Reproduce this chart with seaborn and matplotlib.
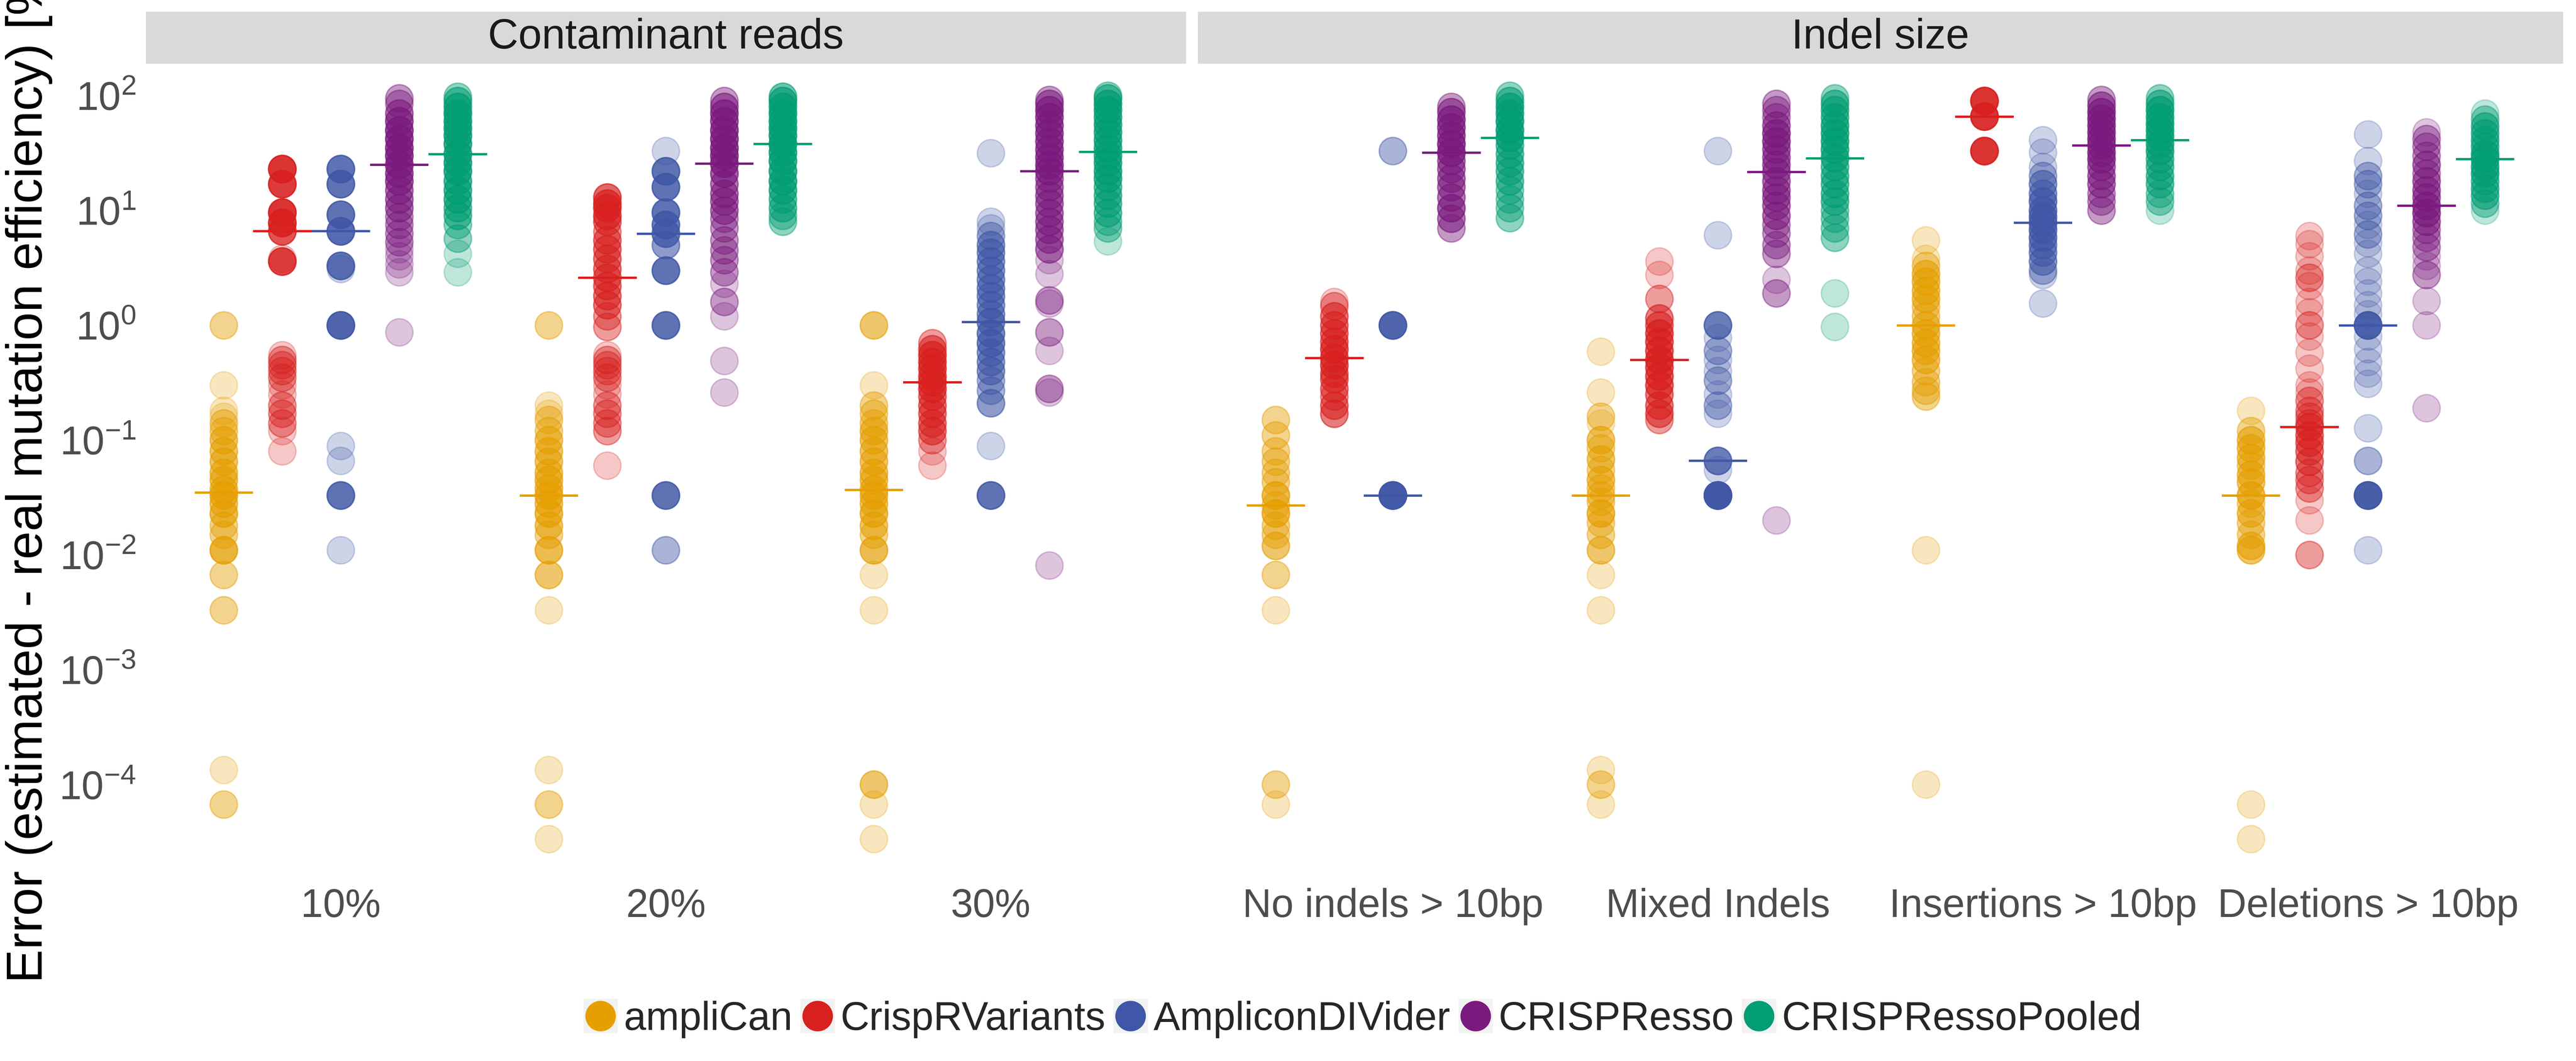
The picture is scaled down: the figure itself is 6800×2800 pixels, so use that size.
import numpy as np
import pandas as pd
import seaborn as sns
import matplotlib.pyplot as plt
from matplotlib.lines import Line2D
from matplotlib.patches import Rectangle
from matplotlib.legend_handler import HandlerTuple
from matplotlib.ticker import NullLocator

tools = ["ampliCan", "CrispRVariants", "AmpliconDIVider", "CRISPResso", "CRISPRessoPooled"]
colors = ["#E69F00", "#D8201F", "#3F57A6", "#7B1A7E", "#029E73"]
panels = ["Contaminant reads", "Indel size"]
contaminant_cats = ["10%", "20%", "30%"]
indel_cats = ["No indels > 10bp", "Mixed Indels", "Insertions > 10bp", "Deletions > 10bp"]

amplican = {
    "10%": [(1.0, 2), (0.30, 1), (0.18, 1), (0.16, 1), (0.14, 2), (0.12, 2), (0.10, 3), (0.08, 3),
            (0.065, 3), (0.052, 3), (0.045, 3), (0.037, 3), (0.033, 4), (0.028, 3), (0.023, 4),
            (0.018, 2), (0.015, 2), (0.011, 5), (0.0067, 2), (0.0033, 2), (1.34e-4, 1), (6.7e-5, 2)],
    "20%": [(1.0, 2), (0.20, 1), (0.17, 1), (0.15, 2), (0.12, 2), (0.10, 3), (0.08, 3), (0.065, 3),
            (0.052, 3), (0.045, 3), (0.038, 3), (0.033, 4), (0.028, 3), (0.023, 4), (0.018, 3),
            (0.015, 2), (0.011, 4), (0.0067, 3), (0.0033, 1), (1.34e-4, 1), (6.7e-5, 2), (3.35e-5, 1)],
    "30%": [(1.0, 3), (0.30, 1), (0.20, 2), (0.17, 2), (0.14, 2), (0.12, 3), (0.10, 3), (0.08, 3),
            (0.065, 3), (0.052, 3), (0.045, 3), (0.037, 3), (0.033, 3), (0.028, 3), (0.023, 4),
            (0.018, 3), (0.015, 2), (0.011, 4), (0.0067, 1), (0.0033, 1), (1.0e-4, 3), (6.7e-5, 1),
            (3.35e-5, 1)],
    "No indels > 10bp": [(0.15, 2), (0.11, 2), (0.08, 2), (0.065, 2), (0.052, 2), (0.043, 2), (0.033, 4),
                         (0.027, 2), (0.023, 4), (0.018, 2), (0.015, 2), (0.012, 3), (0.0067, 2),
                         (0.0033, 1), (1.0e-4, 2), (6.7e-5, 1)],
    "Mixed Indels": [(0.59, 1), (0.26, 1), (0.16, 2), (0.14, 1), (0.10, 3), (0.085, 2), (0.068, 3),
                     (0.055, 2), (0.045, 3), (0.038, 2), (0.033, 2), (0.029, 2), (0.023, 4), (0.019, 2),
                     (0.015, 2), (0.011, 3), (0.0067, 1), (0.0033, 1), (1.34e-4, 1), (1.0e-4, 2), (6.7e-5, 1)],
    "Insertions > 10bp": [(5.5, 1), (3.8, 1), (3.3, 2), (2.8, 3), (2.4, 3), (2.0, 3), (1.7, 3), (1.45, 2),
                          (1.2, 2), (1.0, 3), (0.85, 3), (0.70, 3), (0.60, 3), (0.50, 3), (0.40, 2),
                          (0.32, 2), (0.27, 2), (0.24, 2), (0.011, 1), (1.0e-4, 1)],
    "Deletions > 10bp": [(0.18, 1), (0.12, 2), (0.10, 3), (0.085, 3), (0.07, 3), (0.06, 2), (0.05, 3),
                         (0.043, 3), (0.033, 4), (0.028, 2), (0.023, 3), (0.019, 2), (0.015, 2),
                         (0.012, 3), (0.011, 3), (6.7e-5, 1), (3.35e-5, 1)],
}

crisprvariants = {
    "10%": [(23, 8), (17, 7), (9.6, 8), (7.8, 7), (6.6, 5), (3.8, 1), (3.6, 6), (0.55, 1), (0.50, 2),
            (0.45, 2), (0.40, 2), (0.35, 2), (0.30, 1), (0.25, 1), (0.20, 2), (0.17, 2), (0.14, 2),
            (0.12, 1), (0.08, 1)],
    "20%": [(13, 4), (11.5, 4), (10.5, 4), (9.0, 4), (8.0, 3), (6.5, 2), (5.5, 3), (4.6, 3), (3.8, 3),
            (3.1, 3), (2.6, 3), (2.2, 3), (1.8, 3), (1.5, 3), (1.2, 2), (0.97, 2), (0.55, 1), (0.50, 2),
            (0.45, 2), (0.40, 2), (0.35, 2), (0.30, 1), (0.25, 1), (0.20, 2), (0.17, 2), (0.14, 2),
            (0.12, 2), (0.06, 1)],
    "30%": [(0.70, 2), (0.62, 3), (0.55, 4), (0.48, 4), (0.42, 4), (0.36, 4), (0.32, 4), (0.28, 4),
            (0.24, 3), (0.20, 3), (0.17, 3), (0.14, 3), (0.12, 3), (0.10, 2), (0.08, 1), (0.06, 1)],
    "No indels > 10bp": [(1.6, 1), (1.47, 2), (1.2, 3), (1.0, 3), (0.85, 3), (0.72, 3), (0.62, 4),
                         (0.52, 4), (0.45, 4), (0.38, 3), (0.34, 3), (0.28, 3), (0.24, 2), (0.20, 3),
                         (0.17, 3)],
    "Mixed Indels": [(3.6, 1), (2.75, 1), (1.7, 2), (1.15, 3), (1.0, 3), (0.85, 4), (0.72, 4), (0.60, 4),
                     (0.50, 5), (0.43, 4), (0.36, 4), (0.30, 4), (0.25, 3), (0.20, 3), (0.17, 3), (0.15, 2)],
    "Insertions > 10bp": [(90, 8), (66, 8), (33, 8)],
    "Deletions > 10bp": [(6.0, 1), (5.1, 1), (4.0, 1), (3.0, 1), (2.6, 2), (2.2, 1), (1.6, 1), (1.3, 1),
                         (1.0, 2), (0.80, 1), (0.58, 1), (0.42, 1), (0.30, 1), (0.26, 1), (0.22, 2),
                         (0.18, 2), (0.16, 2), (0.14, 2), (0.13, 3), (0.11, 3), (0.095, 3), (0.08, 3),
                         (0.065, 3), (0.052, 2), (0.045, 2), (0.038, 2), (0.03, 1), (0.02, 1), (0.01, 2)],
}

amplicondivider = {
    "10%": [(23, 6), (17, 6), (9.2, 6), (6.6, 7), (3.3, 6), (3.1, 1), (1.0, 8), (0.089, 1), (0.066, 1),
            (0.033, 6), (0.011, 1)],
    "20%": [(33, 1), (22, 6), (16, 6), (9.6, 6), (7.5, 5), (6.3, 5), (5.0, 3), (3.0, 6), (1.0, 6),
            (0.033, 6), (0.011, 2)],
    "30%": [(31.6, 1), (8.0, 1), (7.0, 1), (6.0, 2), (5.0, 3), (4.3, 3), (3.6, 3), (3.0, 3), (2.5, 3),
            (2.1, 3), (1.8, 3), (1.5, 3), (1.25, 3), (1.07, 4), (0.85, 4), (0.70, 4), (0.58, 3),
            (0.48, 3), (0.40, 3), (0.33, 2), (0.27, 2), (0.21, 3), (0.089, 1), (0.033, 6)],
    "No indels > 10bp": [(33, 2), (1.0, 8), (0.033, 12)],
    "Mixed Indels": [(33, 1), (6.1, 1), (1.0, 5), (0.78, 1), (0.60, 2), (0.50, 1), (0.40, 1), (0.33, 2),
                     (0.25, 1), (0.20, 2), (0.17, 1), (0.066, 5), (0.055, 1), (0.033, 14)],
    "Insertions > 10bp": [(41, 1), (32, 1), (24, 1), (20, 2), (17, 3), (14, 3), (12, 4), (10, 4),
                          (8.8, 4), (7.8, 4), (6.8, 4), (5.8, 4), (5.0, 3), (4.3, 3), (3.6, 3),
                          (3.0, 2), (2.75, 1), (1.55, 1)],
    "Deletions > 10bp": [(46, 1), (27, 1), (20, 2), (17, 2), (14, 1), (11, 2), (9.0, 2), (7.5, 1),
                         (6.2, 2), (5.2, 1), (4.2, 1), (3.0, 1), (2.4, 1), (1.9, 1), (1.5, 1), (1.25, 1),
                         (1.0, 8), (0.80, 1), (0.62, 1), (0.48, 1), (0.38, 1), (0.31, 1), (0.127, 1),
                         (0.066, 2), (0.033, 10), (0.011, 1)],
}

crispresso = {
    "10%": [(95, 2), (85, 2), (70, 3), (60, 4), (50, 5), (42, 5), (35, 5), (30, 5), (25, 5), (21, 4),
            (18, 4), (15, 3), (12.5, 3), (10.5, 3), (8.8, 2), (7.5, 2), (6.3, 2), (5.3, 2), (4.6, 1),
            (4.0, 1), (3.4, 1), (2.9, 1), (0.87, 1)],
    "20%": [(90, 2), (80, 3), (70, 4), (60, 4), (50, 5), (42, 5), (35, 5), (30, 5), (25.6, 5), (21, 4),
            (17, 3), (14, 3), (12, 3), (10, 3), (8.5, 2), (7.0, 2), (5.5, 2), (4.5, 2), (3.7, 2),
            (2.9, 2), (2.3, 1), (1.6, 2), (1.2, 1), (0.49, 1), (0.26, 1)],
    "30%": [(92, 2), (85, 3), (75, 4), (65, 4), (55, 4), (47, 4), (40, 4), (34, 4), (29, 4), (25, 4),
            (22, 4), (19, 3), (16, 3), (13.5, 3), (11.5, 3), (9.5, 3), (8.0, 3), (6.8, 3), (5.6, 3),
            (4.6, 3), (3.7, 1), (2.8, 1), (1.65, 2), (1.55, 1), (0.87, 2), (0.60, 1), (0.28, 2),
            (0.26, 1), (0.0081, 1)],
    "No indels > 10bp": [(80, 2), (72, 3), (62, 4), (53, 4), (45, 4), (38, 5), (32, 5), (27, 3), (23, 3),
                         (19, 3), (16, 3), (13, 3), (10.5, 4), (8.5, 3), (7.0, 2)],
    "Mixed Indels": [(85, 2), (75, 2), (65, 2), (55, 3), (47, 4), (40, 4), (34, 3), (29, 3), (25, 3),
                     (21.6, 3), (18, 3), (15, 3), (13, 3), (11, 3), (9.0, 3), (7.5, 2), (6.3, 2),
                     (5.0, 2), (4.2, 2), (2.5, 1), (1.9, 2), (0.02, 1)],
    "Insertions > 10bp": [(92, 2), (82, 3), (72, 4), (63, 4), (55, 4), (48, 4), (42, 4), (37, 4),
                          (32, 4), (28, 4), (24, 3), (20, 3), (17, 3), (14, 2), (12, 2), (10, 2)],
    "Deletions > 10bp": [(48, 1), (42, 2), (36, 2), (30, 2), (25, 3), (21, 2), (18, 3), (15, 3), (13, 3),
                         (11, 4), (9.5, 4), (8.0, 3), (6.8, 2), (5.8, 2), (4.8, 2), (4.0, 1), (3.3, 1),
                         (2.75, 2), (1.63, 1), (1.0, 1), (0.19, 1)],
}

crispressopooled = {
    "10%": [(98, 2), (90, 3), (80, 4), (70, 5), (60, 5), (52, 5), (45, 5), (38, 5), (31, 5), (26, 5),
            (22, 5), (18, 4), (15, 4), (12.5, 4), (10.5, 3), (9.0, 3), (7.5, 2), (5.7, 2), (4.2, 1),
            (2.9, 1)],
    "20%": [(98, 3), (90, 4), (80, 4), (70, 5), (60, 5), (52, 5), (45, 5), (38, 6), (32, 5), (27, 5),
            (22, 5), (18, 5), (15, 4), (12.5, 3), (10.5, 3), (9.0, 2), (8.0, 2)],
    "30%": [(100, 2), (95, 3), (85, 4), (75, 4), (65, 4), (56, 4), (48, 4), (41, 4), (35, 4), (30, 4),
            (26, 4), (22, 4), (19, 4), (16, 3), (13.5, 3), (11.5, 3), (9.5, 3), (8.0, 2), (7.0, 2),
            (5.4, 1)],
    "No indels > 10bp": [(100, 2), (90, 3), (80, 4), (70, 4), (60, 5), (50, 5), (43, 5), (37, 3), (31, 3),
                         (26, 3), (22, 3), (18, 3), (15, 2), (12.5, 2), (10.5, 2), (8.6, 2)],
    "Mixed Indels": [(95, 2), (85, 3), (75, 3), (65, 3), (55, 4), (47, 4), (40, 4), (34, 4), (28.6, 4),
                     (24, 3), (20, 3), (17, 3), (14, 3), (12, 3), (10, 2), (8.5, 2), (7.0, 2), (5.8, 2),
                     (1.9, 1), (0.97, 1)],
    "Insertions > 10bp": [(95, 2), (85, 3), (75, 4), (65, 4), (57, 4), (50, 4), (44, 4), (38, 4), (33, 4),
                          (28, 3), (24, 3), (20, 3), (17, 3), (14, 2), (12, 2), (10, 1)],
    "Deletions > 10bp": [(70, 1), (62, 2), (54, 3), (47, 3), (41, 3), (36, 3), (31, 4), (28, 4), (24, 4),
                         (21, 4), (18, 3), (15.5, 3), (13.5, 3), (11.5, 2), (10, 1)],
}


def build_frame():
    # long table: one row per experiment
    rows = []
    tables = [amplican, crisprvariants, amplicondivider, crispresso, crispressopooled]
    for tool, table in zip(tools, tables):
        for cat, pairs in table.items():
            panel = panels[0] if cat in contaminant_cats else panels[1]
            for value, n in pairs:
                rows += [(panel, cat, tool, value)] * n
    return pd.DataFrame(rows, columns=["panel", "category", "tool", "error"])


df = build_frame()

sns.set_style("white")
plt.rcParams["font.family"] = ["Liberation Sans", "DejaVu Sans"]
plt.rcParams["mathtext.fontset"] = "custom"
plt.rcParams["mathtext.rm"] = "Liberation Sans"
plt.rcParams["mathtext.it"] = "Liberation Sans"
plt.rcParams["axes.unicode_minus"] = False

fig = plt.figure(figsize=(34, 14), dpi=200)
ax_l = fig.add_axes([0.0566, 0.175, 0.4038, 0.765])
ax_r = fig.add_axes([0.4650, 0.175, 0.5300, 0.765], sharey=ax_l)

for ax, panel, cats in [(ax_l, panels[0], contaminant_cats), (ax_r, panels[1], indel_cats)]:
    sub = df[df["panel"] == panel]

    # median bars, drawn first so the points sit on top of them
    sns.boxplot(data=sub, x="category", y="error", hue="tool", order=cats, hue_order=tools,
                palette=colors, dodge=True, width=0.9, gap=0, fill=False, showbox=False,
                showcaps=False, showfliers=False, whiskerprops={"visible": False},
                medianprops={"linewidth": 2.2}, log_scale=True, legend=False, ax=ax)

    n_before = len(ax.collections)
    sns.stripplot(data=sub, x="category", y="error", hue="tool", order=cats, hue_order=tools,
                  palette=colors, dodge=True, jitter=False, size=26, alpha=0.25,
                  log_scale=True, legend=False, zorder=3, ax=ax)
    # spread the dodged columns to ggplot's 0.9 dodge width and add a matching rim
    for coll in ax.collections[n_before:]:
        offs = coll.get_offsets()
        if len(offs) == 0:
            continue
        centre = np.round(offs[:, 0])
        offs[:, 0] = centre + (offs[:, 0] - centre) * 0.9 / 0.8
        coll.set_offsets(offs)
        coll.set_edgecolor(coll.get_facecolor())
        coll.set_linewidth(1.3)

    ax.set_xlim(-0.6, len(cats) - 0.4)
    ax.set_xlabel("")
    ax.set_ylabel("")
    for s in ax.spines.values():
        s.set_visible(False)
    ax.tick_params(axis="x", length=0, pad=12, labelsize=38, labelcolor="#4D4D4D")

    # facet strip
    ax.add_patch(Rectangle((0, 1), 1, 0.064, transform=ax.transAxes, clip_on=False,
                           facecolor="#D9D9D9", edgecolor="none"))
    ax.text(0.5, 1.032, panel, transform=ax.transAxes, ha="center", va="center",
            fontsize=40, color="#1A1A1A")

ax_l.set_yscale("log")
ax_l.set_ylim(10 ** -4.79, 10 ** 2.28)
ax_l.set_yticks([1e-4, 1e-3, 1e-2, 1e-1, 1, 10, 100])
ax_l.yaxis.set_minor_locator(NullLocator())
ax_l.tick_params(axis="y", length=5.5, width=1.2, color="#333333", pad=4,
                 labelsize=38, labelcolor="#4D4D4D")
ax_r.tick_params(axis="y", left=False, labelleft=False)
ax_l.set_ylabel("Error (estimated - real mutation efficiency) [%]", fontsize=48,
                color="black", labelpad=6)

# legend keys: grey key background with the tool's dot on top
handles = [(Line2D([], [], marker="s", ms=32, ls="", color="#F2F2F2"),
            Line2D([], [], marker="o", ms=28, ls="", color=c)) for c in colors]
fig.legend(handles, tools, handler_map={tuple: HandlerTuple(ndivide=1, pad=0)},
           loc="center", bbox_to_anchor=(0.529, 0.039), ncol=5, frameon=False,
           fontsize=38, handlelength=0.85, handletextpad=0.15, columnspacing=0.2)

fig.savefig("out.png", dpi=200)
